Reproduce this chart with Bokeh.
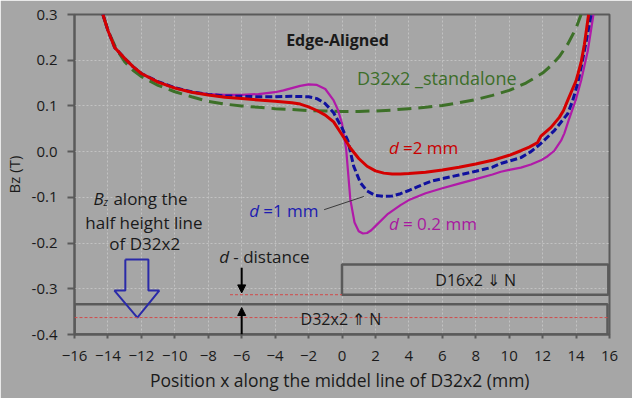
from bokeh.plotting import figure
from bokeh.models import Range1d, Label, Arrow, NormalHead, FixedTicker, NumeralTickFormatter, Span
from bokeh.embed import file_html
from bokeh.resources import INLINE

# ---------------- data ----------------
x_ticks = [-16, -14, -12, -10, -8, -6, -4, -2, 0, 2, 4, 6, 8, 10, 12, 14, 16]
y_ticks = [-0.4, -0.3, -0.2, -0.1, 0.0, 0.1, 0.2, 0.3]

# D32x2 standalone (green long dash)
x_sa = [-14.3, -14.0, -13.5, -13.0, -12.5, -12.0, -11.0, -10.0, -9.0, -8.0, -7.0, -6.0, -5.0, -4.0,
        -3.0, -2.0, -1.0, 0.0, 1.0, 2.0, 3.0, 4.0, 5.0, 6.0, 7.0, 8.0, 9.0, 10.0, 11.0, 12.0, 12.5,
        13.0, 13.5, 14.0, 14.3]
y_sa = [0.300, 0.265, 0.225, 0.197, 0.178, 0.164, 0.145, 0.131, 0.120, 0.110, 0.104, 0.100, 0.097,
        0.094, 0.092, 0.090, 0.089, 0.088, 0.088, 0.089, 0.091, 0.094, 0.097, 0.101, 0.107, 0.114,
        0.123, 0.134, 0.150, 0.172, 0.188, 0.208, 0.235, 0.270, 0.300]

# d = 2 mm (red solid)
x_d2 = [-14.3, -14.0, -13.6, -13.0, -12.5, -12.0, -11.0, -10.0, -9.0, -8.0, -7.0, -6.0, -5.0, -4.0,
        -3.0, -2.5, -2.0, -1.5, -1.0, -0.5, 0.0, 0.5, 1.0, 1.5, 2.0, 2.5, 3.0, 3.5, 4.0, 5.0, 6.0,
        7.0, 8.0, 9.0, 10.0, 10.7, 11.2, 11.7, 11.8, 11.9, 12.5, 13.0, 13.25, 13.5, 14.0, 14.3,
        14.5, 14.75]
y_d2 = [0.300, 0.265, 0.228, 0.204, 0.186, 0.171, 0.152, 0.139, 0.130, 0.124, 0.119, 0.116, 0.113,
        0.110, 0.107, 0.104, 0.098, 0.090, 0.080, 0.065, 0.037, 0.008, -0.015, -0.032, -0.042,
        -0.047, -0.049, -0.049, -0.048, -0.045, -0.040, -0.034, -0.027, -0.019, -0.008, 0.002,
        0.010, 0.020, 0.027, 0.034, 0.053, 0.075, 0.090, 0.112, 0.155, 0.195, 0.235, 0.300]

# d = 1 mm (blue dashed)
x_d1 = [-14.3, -14.0, -13.6, -13.0, -12.5, -12.0, -11.0, -10.0, -9.0, -8.0, -7.0, -6.0, -5.0, -4.0,
        -3.0, -2.0, -1.5, -1.0, -0.5, 0.0, 0.35, 0.7, 1.1, 1.5, 2.0, 2.5, 3.0, 3.5, 4.0, 4.5, 5.3,
        6.0, 7.0, 8.0, 9.0, 9.5, 10.7, 11.3, 11.9, 12.7, 13.5, 13.8, 14.1, 14.3, 14.6, 14.9]
y_d1 = [0.300, 0.265, 0.228, 0.204, 0.186, 0.171, 0.153, 0.140, 0.131, 0.125, 0.122, 0.121, 0.120,
        0.120, 0.121, 0.120, 0.116, 0.105, 0.085, 0.052, 0.024, -0.032, -0.068, -0.086, -0.096,
        -0.098, -0.097, -0.092, -0.085, -0.077, -0.065, -0.059, -0.051, -0.043, -0.034, -0.026,
        -0.013, 0.000, 0.018, 0.046, 0.083, 0.112, 0.150, 0.184, 0.240, 0.300]

# d = 0.2 mm (magenta solid)
x_d02 = [-14.3, -14.0, -13.6, -13.0, -12.5, -12.0, -11.0, -10.0, -9.0, -8.0, -7.0, -6.0, -5.0, -4.0,
         -3.5, -3.0, -2.5, -2.0, -1.5, -1.0, -0.5, -0.25, 0.0, 0.25, 0.5, 0.75, 1.0, 1.25, 1.5,
         1.75, 2.0, 2.75, 3.5, 4.0, 5.0, 6.0, 7.0, 8.0, 9.0, 9.5, 10.0, 10.7, 11.3, 11.9, 12.3,
         12.7, 13.1, 13.3, 13.55, 14.0, 14.3, 14.7, 15.04]
y_d02 = [0.300, 0.265, 0.228, 0.204, 0.186, 0.171, 0.153, 0.140, 0.131, 0.126, 0.124, 0.124, 0.126,
         0.130, 0.134, 0.139, 0.144, 0.147, 0.146, 0.137, 0.112, 0.092, 0.062, 0.005, -0.105,
         -0.155, -0.174, -0.179, -0.178, -0.172, -0.163, -0.136, -0.117, -0.106, -0.091, -0.080,
         -0.070, -0.060, -0.050, -0.044, -0.040, -0.035, -0.028, -0.019, -0.010, 0.002, 0.024,
         0.040, 0.068, 0.115, 0.155, 0.220, 0.300]

# magnets (rectangles) and schematic marks
d16_box = dict(left=[0.0], right=[15.93], top=[-0.247], bottom=[-0.313])
d32_box = dict(left=[-16.0], right=[15.88], top=[-0.334], bottom=[-0.4])
half_height_y = -0.363
d16_bottom_y = -0.313
blue_arrow_x = [-12.96, -12.96, -13.61, -12.24, -10.93, -11.58, -11.58, -12.96]
blue_arrow_y = [-0.236, -0.304, -0.304, -0.363, -0.304, -0.304, -0.236, -0.236]
leader_x = [-1.07, 1.31]
leader_y = [-0.127, -0.098]

BG = "#a6a6a6"
FONT = "Open Sans"
AX = "#5a5a5a"
TXT = "#1a1a1a"

p = figure(width=632, height=398, output_backend="svg", toolbar_location=None,
           x_range=Range1d(-16, 16), y_range=Range1d(-0.4, 0.3),
           min_border_left=73, min_border_right=23, min_border_top=14, min_border_bottom=64,
           background_fill_color=BG, border_fill_color=BG)
p.outline_line_color = AX
p.outline_line_width = 2

# axes
p.xaxis.ticker = FixedTicker(ticks=x_ticks)
p.yaxis.ticker = FixedTicker(ticks=y_ticks)
p.yaxis.formatter = NumeralTickFormatter(format="0.0")
for ax in (p.xaxis[0], p.yaxis[0]):
    ax.axis_line_color = AX
    ax.axis_line_width = 2
    ax.major_tick_line_color = AX
    ax.major_tick_line_width = 2
    ax.major_tick_in = 0
    ax.minor_tick_line_color = None
    ax.major_label_text_font = FONT
    ax.major_label_text_font_size = "15px"
    ax.major_label_text_color = TXT
    ax.axis_label_text_font = FONT
    ax.axis_label_text_font_style = "normal"
    ax.axis_label_text_color = TXT
p.xaxis.major_tick_out = 4
p.yaxis.major_tick_out = 7
p.xaxis.major_label_standoff = 12
p.yaxis.major_label_standoff = 10
p.xaxis.axis_label = "Position x along the middel line of D32x2  (mm)"
p.xaxis.axis_label_text_font_size = "17.5px"
p.xaxis.axis_label_standoff = 4
p.yaxis.axis_label = "Bz (T)"
p.yaxis.axis_label_text_font_size = "15px"
p.yaxis.axis_label_standoff = 5

for g in (p.xgrid[0], p.ygrid[0]):
    g.grid_line_color = "#c2c2c2"
    g.grid_line_dash = "2 2"
    g.grid_line_width = 1

# schematic: magnets
p.quad(**d32_box, fill_color=None, line_color=AX, line_width=2.5)
p.quad(**d16_box, fill_color=None, line_color=AX, line_width=2.5)
p.add_layout(Span(location=half_height_y, dimension="width", line_color="#d24a4a",
                  line_width=1, line_dash="3 2"))
p.line([-6.7, 0.0], [d16_bottom_y, d16_bottom_y], line_color="#d24a4a", line_width=1, line_dash="3 2")

# curves
p.line(x_sa, y_sa, line_color="#3d7028", line_width=3, line_dash="14 7")
p.line(x_d02, y_d02, line_color="#b01aa8", line_width=2.2)
p.line(x_d1, y_d1, line_color="#10109e", line_width=3, line_dash="7 3")
p.line(x_d2, y_d2, line_color="#d40000", line_width=3)

# blue hollow arrow
p.line(blue_arrow_x, blue_arrow_y, line_color="#2a2aa8", line_width=2)
# leader line for d=1 mm
p.line(leader_x, leader_y, line_color="#3a3a3a", line_width=1)

# distance arrows
p.add_layout(Arrow(end=NormalHead(size=8, fill_color="black", line_color="black"),
                   x_start=-6, y_start=-0.254, x_end=-6, y_end=-0.309,
                   line_color="black", line_width=2))
p.add_layout(Arrow(end=NormalHead(size=8, fill_color="black", line_color="black"),
                   x_start=-6, y_start=-0.4, x_end=-6, y_end=-0.341,
                   line_color="black", line_width=2))


def lab(x, y, text, size="16px", color=TXT, style="normal", align="left", xo=0, yo=0):
    p.add_layout(Label(x=x, y=y, text=text, text_font=FONT, text_font_size=size,
                       text_color=color, text_font_style=style, text_align=align,
                       text_baseline="middle", x_offset=xo, y_offset=yo))


lab(-0.27, 0.245, "Edge-Aligned", size="16px", style="bold", align="center")
lab(5.67, 0.162, "D32x2 _standalone", size="18px", color="#3d6e2a", align="center")

lab(2.81, 0.009, "d", size="17px", color="#c80000", style="italic")
lab(2.81, 0.009, "=2 mm", size="17px", color="#c80000", xo=14)
lab(-5.55, -0.129, "d", size="17px", color="#1c1cb0", style="italic")
lab(-5.55, -0.129, "=1 mm", size="17px", color="#1c1cb0", xo=14)
lab(2.81, -0.157, "d", size="17px", color="#a8189f", style="italic")
lab(2.81, -0.157, "= 0.2 mm", size="17px", color="#a8189f", xo=14)

lab(-14.87, -0.103, "B", size="17px", style="italic")
lab(-14.87, -0.111, "z", size="10px", style="italic", xo=10)
lab(-14.87, -0.103, "along the", size="17px", xo=20)
lab(-11.85, -0.155, "half height line", size="17px", align="center")
lab(-11.80, -0.201, "of D32x2", size="17px", align="center")

lab(-7.34, -0.23, "d", size="17px", style="italic")
lab(-7.34, -0.23, "- distance", size="17px", xo=14)

lab(8.0, -0.28, "D16x2 \u21d3 N", size="16px", align="center")
lab(-0.06, -0.367, "D32x2 \u21d1 N", size="16px", align="center")

html = file_html(p, INLINE, title="Edge-Aligned")
html = html.replace("<body>", '<body style="background-color:#a6a6a6; overflow:hidden;">', 1)
open("out.html", "w").write(html)
